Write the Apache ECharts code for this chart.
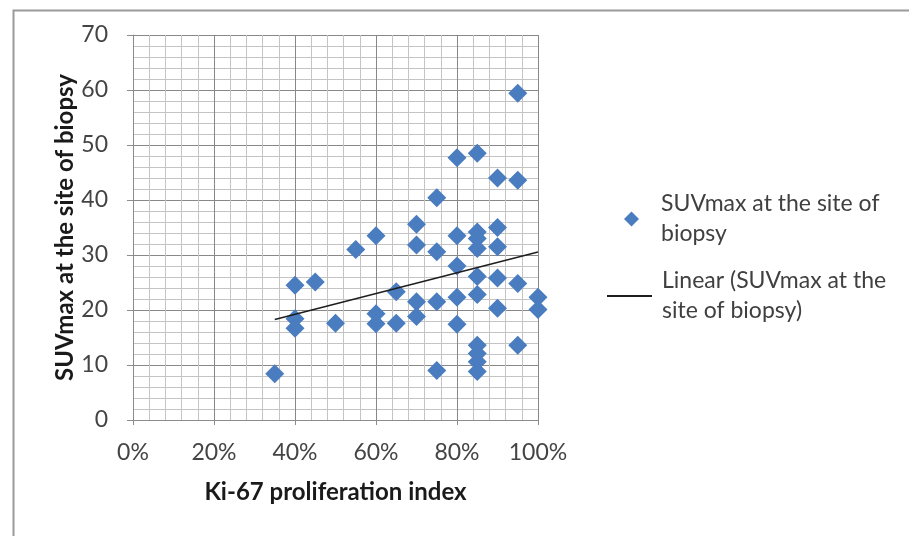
<!DOCTYPE html>
<html>
<head>
<meta charset="utf-8">
<script src="https://cdn.jsdelivr.net/npm/echarts@6/dist/echarts.min.js"></script>
<style>
html,body{margin:0;padding:0;background:#fff;}
#chart{width:909px;height:536px;}
</style>
</head>
<body>
<div id="chart"></div>
<script>
// Ki-67 proliferation index (%)
var ki67 = [35, 40, 40, 40, 45, 50, 55, 60, 60, 60, 65, 65, 70, 70, 70, 70,
            75, 75, 75, 75, 80, 80, 80, 80, 80,
            85, 85, 85, 85, 85, 85, 85, 85, 85, 85,
            90, 90, 90, 90, 90, 95, 95, 95, 95, 100, 100];
// SUVmax at the site of biopsy
var suv = [8.4, 24.5, 18.4, 16.7, 25.1, 17.6, 31.0, 33.5, 19.3, 17.5, 23.3, 17.6, 35.6, 31.8, 21.5, 18.8,
           40.4, 30.6, 21.5, 9.0, 47.7, 33.5, 28.0, 22.3, 17.4,
           48.5, 34.2, 33.0, 31.2, 26.1, 22.8, 13.6, 12.1, 10.6, 8.8,
           44.0, 35.0, 31.5, 25.8, 20.3, 59.4, 43.6, 24.8, 13.6, 22.3, 20.1];
var xTicks = {min: 0, max: 100, interval: 20};
var yTicks = {min: 0, max: 70, interval: 10};
var scatterName = 'SUVmax at the site of biopsy';
var trendName = 'Linear (SUVmax at the site of biopsy)';
var scatterLegendText = 'SUVmax at the site of\nbiopsy';
var trendLegendText = 'Linear (SUVmax at the\nsite of biopsy)';

var points = ki67.map(function (x, i) { return [x, suv[i]]; });
// least squares linear trendline
var n = ki67.length, sx = 0, sy = 0, sxx = 0, sxy = 0;
for (var i = 0; i < n; i++) { sx += ki67[i]; sy += suv[i]; sxx += ki67[i] * ki67[i]; sxy += ki67[i] * suv[i]; }
var slope = (n * sxy - sx * sy) / (n * sxx - sx * sx);
var icpt = (sy - slope * sx) / n;
var xmin = Math.min.apply(null, ki67), xmax = Math.max.apply(null, ki67);
var trend = [[xmin, icpt + slope * xmin], [xmax, icpt + slope * xmax]];

var FONT = 'Lato';
var chart = echarts.init(document.getElementById('chart'), null, {renderer: 'canvas'});
chart.setOption({
  animation: false,
  backgroundColor: '#ffffff',
  graphic: [{
    type: 'rect', left: 11, top: 8, silent: true,
    shape: {width: 1000, height: 600},
    style: {fill: 'none', stroke: '#9a9a9a', lineWidth: 2}
  }],
  grid: {left: 133, right: 371, top: 35, bottom: 116},
  legend: [{
    data: [{name: scatterName, icon: 'diamond'}],
    orient: 'vertical', left: 624, top: 174, padding: 0,
    itemWidth: 15, itemHeight: 15,
    formatter: function () { return scatterLegendText; },
    textStyle: {fontFamily: FONT, fontSize: 23, color: '#404040', lineHeight: 30, padding: [30, 0, 0, 17]}
  }, {
    data: [{name: trendName, icon: 'rect'}],
    orient: 'vertical', left: 607, top: 251, padding: 0,
    itemWidth: 45, itemHeight: 2,
    formatter: function () { return trendLegendText; },
    textStyle: {fontFamily: FONT, fontSize: 23, color: '#404040', lineHeight: 30, padding: [30, 0, 0, 5]}
  }],
  xAxis: {
    type: 'value', min: xTicks.min, max: xTicks.max, interval: xTicks.interval,
    name: 'Ki-67 proliferation index', nameLocation: 'middle', nameGap: 60,
    nameTextStyle: {fontFamily: FONT, fontSize: 24, fontWeight: 'bold', color: '#1a1a1a'},
    axisLine: {show: true, lineStyle: {color: '#8c8c8c', width: 1}},
    axisTick: {show: true, inside: false, length: 5, lineStyle: {color: '#8c8c8c'}},
    axisLabel: {fontFamily: FONT, fontSize: 23, color: '#444', margin: 21, formatter: '{value}%'},
    splitLine: {show: true, lineStyle: {color: '#888888', width: 1}},
    minorTick: {show: false, splitNumber: 5},
    minorSplitLine: {show: true, lineStyle: {color: '#c4c4c4', width: 1}}
  },
  yAxis: {
    type: 'value', min: yTicks.min, max: yTicks.max, interval: yTicks.interval,
    name: 'SUVmax at the site of biopsy', nameLocation: 'middle', nameGap: 55,
    nameTextStyle: {fontFamily: FONT, fontSize: 24, fontWeight: 'bold', color: '#1a1a1a'},
    axisLine: {show: true, lineStyle: {color: '#8c8c8c', width: 1}},
    axisTick: {show: true, inside: false, length: 6, lineStyle: {color: '#8c8c8c'}},
    axisLabel: {fontFamily: FONT, fontSize: 23, color: '#444', margin: 25},
    splitLine: {show: true, lineStyle: {color: '#888888', width: 1}},
    minorTick: {show: false, splitNumber: 5},
    minorSplitLine: {show: true, lineStyle: {color: '#c4c4c4', width: 1}}
  },
  series: [{
    name: scatterName, type: 'scatter', data: points,
    symbol: 'diamond', symbolSize: 19,
    itemStyle: {color: '#4a7cc0', opacity: 1},
    z: 3
  }, {
    name: trendName, type: 'line', data: trend,
    showSymbol: false, symbol: 'none',
    lineStyle: {color: '#1e1e1e', width: 1.5},
    itemStyle: {color: '#1e1e1e'},
    z: 4
  }]
});
</script>
</body>
</html>
